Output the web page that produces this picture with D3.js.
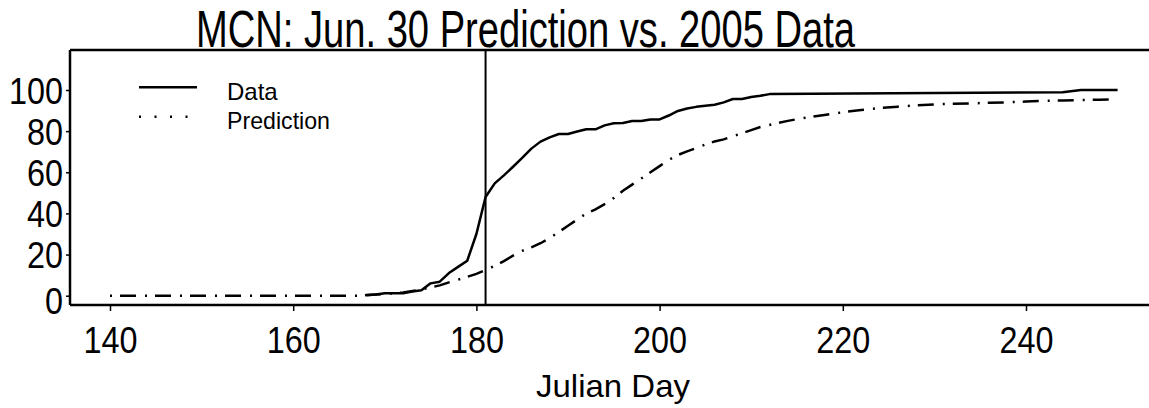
<!DOCTYPE html>
<html>
<head>
<meta charset="utf-8">
<script src="https://cdn.jsdelivr.net/npm/d3@7"></script>
<style>
  html, body { margin: 0; padding: 0; background: #fff; }
  svg { display: block; }
  text { font-family: "Liberation Sans", Arial, sans-serif; fill: #000; }
</style>
</head>
<body>
<svg id="chart" width="1149" height="408"></svg>
<script>
// ---- data ----
const titleText = "MCN: Jun. 30 Prediction vs. 2005 Data";
const xLabel = "Julian Day";
const legendLabels = ["Data", "Prediction"];
const xTicks = [140, 160, 180, 200, 220, 240];
const yTicks = [0, 20, 40, 60, 80, 100];
const cutoffDay = 181;

const dataDays = [168,169,170,171,172,173,174,175,176,177,178,179,180,181,182,183,184,185,186,187,188,189,190,191,192,193,194,195,196,197,198,199,200,201,202,203,204,205,206,207,208,209,210,211,212,244,246,250];
const dataValues = [0.2,0.6,1.2,1.2,1.2,2.0,2.6,6.0,6.8,11,14,17,30,48,54.6,58.5,62.7,67,71.5,74.9,77,78.6,78.6,79.8,80.9,80.9,82.8,83.8,84,84.9,84.9,85.7,85.7,87.6,89.8,91,91.8,92.3,92.8,94,95.6,95.6,96.6,97.2,98,98.9,100,100];

const predDays = [140,167,168,170,172,174,176,177,178,180,181,182,183,184,185,186,187,188,189,190,191,192,193,194,195,196,197,198,199,200,201,202,203,204,205,206,207,208,209,210,211,212,214,216,218,220,222,224,226,228,230,232,234,236,238,240,242,244,246,248,250];
const predValues = [0,0,0.3,0.8,1.6,3.0,5.0,6.5,7.8,10.6,12.5,14.5,16.8,19.5,21.8,23.5,25.5,28,31,34,37,40,42,44.5,47.5,51,54,57,60,63,66,68.4,70.2,71.7,73.5,75,76,77.5,79,80.5,82,83,85,86.6,87.8,89.2,90.3,91.2,91.9,92.5,93,93.3,93.5,93.8,94,94.4,94.7,94.9,95.1,95.3,95.5];

// ---- layout ----
const svg = d3.select("#chart");
const frameLeft = 70, frameTop = 50, frameBottom = 305, frameRight = 1149;

const x = d3.scaleLinear().domain([140, 240]).range([110, 1026]);
const y = d3.scaleLinear().domain([0, 100]).range([295.7, 90]);

// frame
const frame = svg.append("g").attr("stroke", "#000").attr("stroke-width", 2.5).attr("fill", "none");
frame.append("line").attr("x1", frameLeft).attr("x2", frameRight).attr("y1", frameTop).attr("y2", frameTop);
frame.append("line").attr("x1", frameLeft).attr("x2", frameLeft).attr("y1", frameTop).attr("y2", frameBottom);
frame.append("line").attr("x1", frameLeft).attr("x2", frameRight).attr("y1", frameBottom).attr("y2", frameBottom);

// x axis
const xAxis = svg.append("g")
  .attr("transform", `translate(0,${frameBottom})`)
  .call(d3.axisBottom(x).tickValues(xTicks).tickSize(6).tickPadding(0).tickFormat(d3.format("d")));
xAxis.select(".domain").remove();
xAxis.selectAll(".tick line").attr("stroke", "#000").attr("stroke-width", 1.5);
xAxis.selectAll(".tick text")
  .attr("y", 48).attr("dy", 0)
  .attr("font-size", 36)
  .attr("textLength", d => String(d).length * 18)
  .attr("lengthAdjust", "spacingAndGlyphs");

// y axis
const yAxis = svg.append("g")
  .attr("transform", `translate(${frameLeft},0)`)
  .call(d3.axisLeft(y).tickValues(yTicks).tickSize(4).tickPadding(0).tickFormat(d3.format("d")));
yAxis.select(".domain").remove();
yAxis.selectAll(".tick line").attr("stroke", "#000").attr("stroke-width", 1.5);
yAxis.selectAll(".tick text")
  .attr("x", -7).attr("dy", 0)
  .attr("y", d => d === 0 ? 18 : 13)
  .attr("font-size", 36)
  .attr("textLength", d => String(d).length * 18)
  .attr("lengthAdjust", "spacingAndGlyphs");

// title & axis label
svg.append("text").text(titleText)
  .attr("x", 196).attr("y", 47)
  .attr("font-size", 52)
  .attr("textLength", 659).attr("lengthAdjust", "spacingAndGlyphs");

svg.append("text").text(xLabel)
  .attr("x", 536).attr("y", 397)
  .attr("font-size", 32)
  .attr("textLength", 154).attr("lengthAdjust", "spacingAndGlyphs");

// cutoff line
svg.append("line")
  .attr("x1", x(cutoffDay)).attr("x2", x(cutoffDay))
  .attr("y1", frameTop).attr("y2", frameBottom)
  .attr("stroke", "#000").attr("stroke-width", 2);

// series
const line = d3.line().x(d => x(d[0])).y(d => y(d[1]));
svg.append("path")
  .datum(predDays.map((d, i) => [d, predValues[i]]))
  .attr("d", line).attr("fill", "none").attr("stroke", "#000")
  .attr("stroke-width", 2.5).attr("stroke-dasharray", "2,8,16,9");
svg.append("path")
  .datum(dataDays.map((d, i) => [d, dataValues[i]]))
  .attr("d", line).attr("fill", "none").attr("stroke", "#000")
  .attr("stroke-width", 2.5).attr("stroke-linejoin", "round");

// legend
const lg = svg.append("g");
lg.append("line").attr("x1", 139).attr("x2", 197).attr("y1", 87.3).attr("y2", 87.3)
  .attr("stroke", "#000").attr("stroke-width", 2.5);
lg.append("line").attr("x1", 139).attr("x2", 197).attr("y1", 116.7).attr("y2", 116.7)
  .attr("stroke", "#000").attr("stroke-width", 2.5).attr("stroke-dasharray", "2,13.5");
lg.append("text").text(legendLabels[0]).attr("x", 227).attr("y", 100).attr("font-size", 24);
lg.append("text").text(legendLabels[1]).attr("x", 227).attr("y", 128.5).attr("font-size", 24)
  .attr("textLength", 103).attr("lengthAdjust", "spacingAndGlyphs");
</script>
</body>
</html>
